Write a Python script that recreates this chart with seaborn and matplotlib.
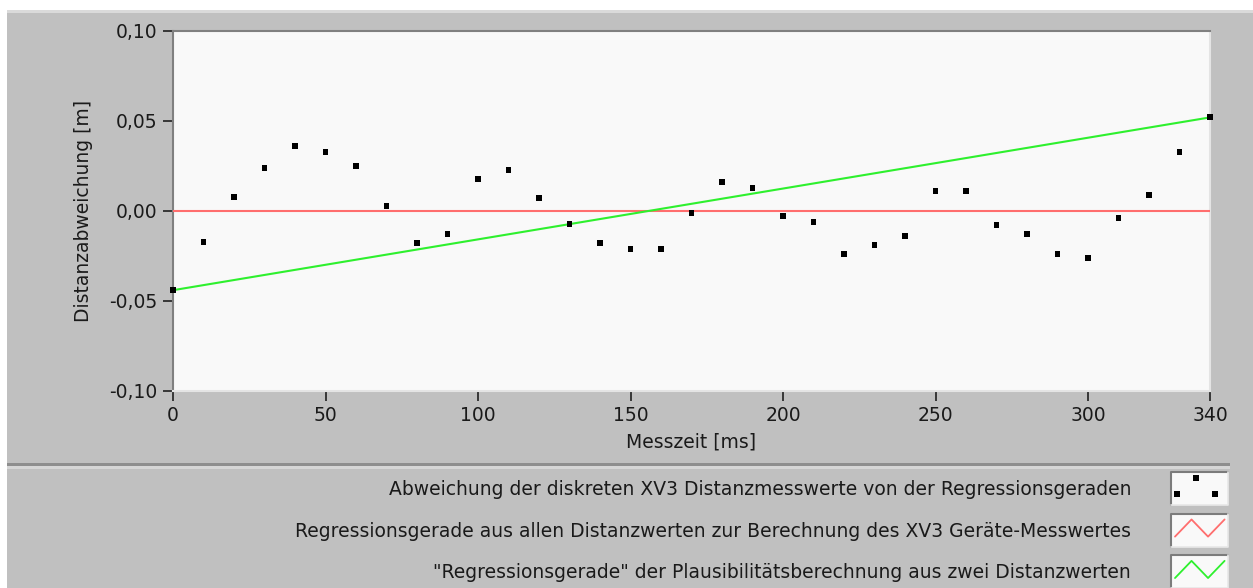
import numpy as np
import pandas as pd
import matplotlib
matplotlib.use("Agg")
import matplotlib.pyplot as plt
import seaborn as sns
from matplotlib.patches import Rectangle
from matplotlib.lines import Line2D
from matplotlib.legend_handler import HandlerBase

# Messzeitpunkte [ms]
messzeit_ms = [0, 10, 20, 30, 40, 50, 60, 70, 80, 90, 100, 110, 120, 130, 140,
               150, 160, 170, 180, 190, 200, 210, 220, 230, 240, 250, 260, 270,
               280, 290, 300, 310, 320, 330, 340]
# Abweichung der diskreten Distanzmesswerte von der Regressionsgeraden [m]
abweichung_m = [-0.044, -0.017, 0.008, 0.024, 0.036, 0.033, 0.025, 0.003,
                -0.018, -0.013, 0.018, 0.023, 0.007, -0.007, -0.018, -0.021,
                -0.021, -0.001, 0.016, 0.013, -0.003, -0.006, -0.024, -0.019,
                -0.014, 0.011, 0.011, -0.008, -0.013, -0.024, -0.026, -0.004,
                0.009, 0.033, 0.052]
# Regressionsgerade aus allen Distanzwerten (Bezugslinie)
regr_x = [0, 340]
regr_y = [0.0, 0.0]
# Plausibilitaets-"Regressionsgerade" aus erstem und letztem Distanzwert
plaus_x = [0, 340]
plaus_y = [-0.044, 0.052]

x_ticks = [0, 50, 100, 150, 200, 250, 300, 340]
x_tick_labels = ["0", "50", "100", "150", "200", "250", "300", "340"]
y_ticks = [-0.10, -0.05, 0.0, 0.05, 0.10]
y_tick_labels = ["-0,10", "-0,05", "0,00", "0,05", "0,10"]

legend_labels = [
    "Abweichung der diskreten XV3 Distanzmesswerte von der Regressionsgeraden",
    "Regressionsgerade aus allen Distanzwerten zur Berechnung des XV3 Geräte-Messwertes",
    "\"Regressionsgerade\" der Plausibilitätsberechnung aus zwei Distanzwerten",
]

RED = "#FF6E6E"
GREEN = "#2EF02E"
PANEL = "#C0C0C0"
PLOT_BG = "#F9F9F9"
TEXT = "#1A1A1A"
FS = 13.5

sns.set_theme(style="white")
plt.rcParams["font.family"] = ["DejaVu Sans"]
plt.rcParams["text.color"] = TEXT

W, H = 1253, 588
fig = plt.figure(figsize=(W / 100, H / 100), dpi=100, facecolor="white")

# ---- panel background in pixel coordinates ----
bg = fig.add_axes([0, 0, 1, 1], zorder=-10)
bg.set_xlim(0, W)
bg.set_ylim(H, 0)
bg.axis("off")
bg.add_patch(Rectangle((7, 10), W - 7, H - 10, facecolor=PANEL, edgecolor="none"))
bg.add_patch(Rectangle((7, 10), W - 7, 3, facecolor="#DADADA", edgecolor="none"))
# left bevel
grad_l = np.linspace(0.82, 0.753, 64)[None, :]
bg.imshow(grad_l, cmap="gray", vmin=0, vmax=1, extent=(7, 33, H, 13), aspect="auto")
# right bevel
grad_r = np.linspace(0.753, 0.48, 64)[None, :]
bg.imshow(grad_r, cmap="gray", vmin=0, vmax=1, extent=(1230, W, H, 13), aspect="auto")
# separator between graph and legend area
bg.add_patch(Rectangle((7, 463), 1223, 3, facecolor="#8E8E8E", edgecolor="none"))
bg.add_patch(Rectangle((7, 466), 1223, 3, facecolor="#D6D6D6", edgecolor="none"))

# ---- graph ----
L, R, T, B = 173, 1210, 31, 391
ax = fig.add_axes([L / W, 1 - B / H, (R - L) / W, (B - T) / H])
ax.set_facecolor(PLOT_BG)

sns.lineplot(x=regr_x, y=regr_y, color=RED, linewidth=1.5, ax=ax, zorder=3)
sns.lineplot(x=plaus_x, y=plaus_y, color=GREEN, linewidth=1.5, ax=ax, zorder=3)
df_pts = pd.DataFrame({"Messzeit": messzeit_ms, "Abweichung": abweichung_m})
sns.scatterplot(data=df_pts, x="Messzeit", y="Abweichung", marker="s", s=18,
                color="black", edgecolor="none", linewidth=0, ax=ax,
                zorder=5, clip_on=False)

ax.set_xlim(0, 340)
ax.set_ylim(-0.10, 0.10)
ax.set_xticks(x_ticks)
ax.set_xticklabels(x_tick_labels)
ax.set_yticks(y_ticks)
ax.set_yticklabels(y_tick_labels)
ax.tick_params(axis="both", direction="out", length=7, width=1.2,
               color="#202020", labelsize=FS, labelcolor=TEXT, pad=4)
ax.tick_params(axis="x", bottom=True)
ax.tick_params(axis="y", left=True)

for side in ("left", "top"):
    ax.spines[side].set_color("#808080")
    ax.spines[side].set_linewidth(1.5)
for side in ("right", "bottom"):
    ax.spines[side].set_color("#E4E4E4")
    ax.spines[side].set_linewidth(1.5)

ax.set_xlabel("Messzeit [ms]", fontsize=FS, color=TEXT)
ax.set_ylabel("Distanzabweichung [m]", fontsize=FS, color=TEXT)
ax.xaxis.set_label_coords(0.5, -0.115)
ax.yaxis.set_label_coords(-0.077, 0.5)


# ---- legend with boxed keys ----
class BoxedKey(HandlerBase):
    def __init__(self, kind, color, drop=2.2):
        super().__init__()
        self.kind = kind
        self.color = color
        self.drop = drop

    def create_artists(self, legend, orig_handle, xdescent, ydescent,
                       width, height, fontsize, trans):
        x0, y0 = -xdescent, -ydescent - self.drop
        w, h = width, height + ydescent
        arts = [Rectangle((x0, y0), w, h, facecolor=PLOT_BG,
                          edgecolor="none", transform=trans)]
        arts.append(Line2D([x0, x0, x0 + w], [y0, y0 + h, y0 + h],
                           color="#7C7C7C", lw=1.5, transform=trans))
        arts.append(Line2D([x0, x0 + w, x0 + w], [y0, y0, y0 + h],
                           color="#E8E8E8", lw=1.2, transform=trans))
        if self.kind == "dots":
            px = [x0 + 0.44 * w, x0 + 0.10 * w, x0 + 0.78 * w]
            py = [y0 + 0.82 * h, y0 + 0.34 * h, y0 + 0.34 * h]
            arts.append(Line2D(px, py, linestyle="none", marker="s",
                               markersize=4.6, color="black",
                               markeredgewidth=0, transform=trans))
        else:
            zx = [x0 + f * w for f in (0.07, 0.36, 0.65, 0.94)]
            zy = [y0 + f * h for f in (0.30, 0.82, 0.30, 0.82)]
            arts.append(Line2D(zx, zy, color=self.color, lw=1.3,
                               transform=trans))
        return arts


handles = [Line2D([], []), Line2D([], []), Line2D([], [])]
fig.legend(handles, legend_labels,
           handler_map={handles[0]: BoxedKey("dots", "black"),
                        handles[1]: BoxedKey("line", RED),
                        handles[2]: BoxedKey("line", GREEN)},
           loc="upper right", bbox_to_anchor=(1228 / W, 1 - 476 / H),
           frameon=False, markerfirst=False, fontsize=FS,
           handlelength=3.04, handleheight=1.76, handletextpad=2.13,
           labelspacing=0.82, borderpad=0, borderaxespad=0)

fig.savefig("out.png", dpi=100, facecolor="white")
